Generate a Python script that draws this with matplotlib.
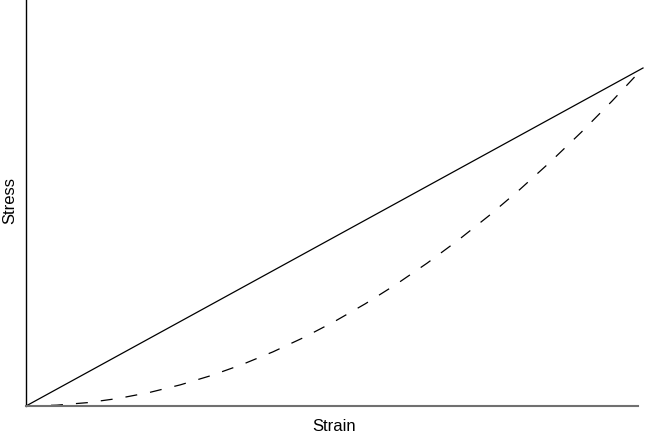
import matplotlib
matplotlib.use('Agg')
import matplotlib.pyplot as plt

# Values (normalised units)
strain = [0.0, 0.05, 0.1, 0.15, 0.2, 0.25, 0.3, 0.35, 0.4, 0.45, 0.5,
          0.55, 0.6, 0.65, 0.7, 0.75, 0.8, 0.85, 0.9, 0.95, 1.0]
stress_linear = [0.0, 0.05, 0.1, 0.15, 0.2, 0.25, 0.3, 0.35, 0.4, 0.45, 0.5,
                 0.55, 0.6, 0.65, 0.7, 0.75, 0.8, 0.85, 0.9, 0.95, 1.0]
stress_curved = [0.0, 0.0025, 0.01, 0.0225, 0.04, 0.0625, 0.09, 0.1225, 0.16,
                 0.2025, 0.25, 0.3025, 0.36, 0.4225, 0.49, 0.5625, 0.64,
                 0.7225, 0.81, 0.9025, 1.0]

plt.rcParams['font.family'] = ['Liberation Sans', 'DejaVu Sans']
plt.rcParams['lines.scale_dashes'] = False

W, H = 645, 434
fig = plt.figure(figsize=(W / 100, H / 100), dpi=100)
ax = fig.add_axes([26 / W, 28 / H, 612 / W, 406 / H])

ax.plot(strain, stress_linear, color='black', linewidth=0.9,
        clip_on=False)
ax.plot(strain, stress_curved, color='black', linewidth=0.9,
        linestyle=(0, (8.6, 9.4)), clip_on=False)

ax.set_xlim(0, 612 / 617)
ax.set_ylim(0, 406 / 338)
ax.set_xticks([])
ax.set_yticks([])

ax.spines['top'].set_visible(False)
ax.spines['right'].set_visible(False)
ax.spines['left'].set_color('black')
ax.spines['left'].set_linewidth(1.0)
ax.spines['bottom'].set_color('#707070')
ax.spines['bottom'].set_linewidth(1.5)

# axis labels placed to match the reference
fig.text(334.5 / W, 3 / H, 'Strain', fontsize=12, ha='center', va='baseline')
fig.text(9.5 / W, 1 - 201 / H, 'Stress', fontsize=12, rotation=90,
         ha='center', va='center')

plt.savefig('out.png', dpi=100)
